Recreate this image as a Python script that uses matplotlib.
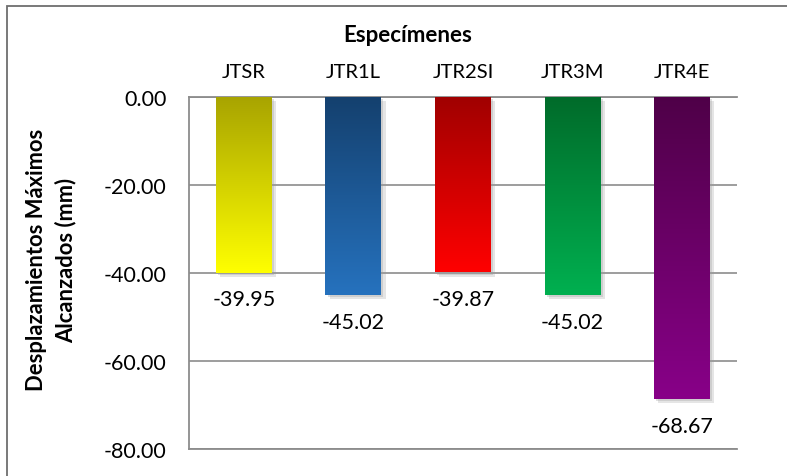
import matplotlib
matplotlib.use("Agg")
import matplotlib.pyplot as plt
import numpy as np
from matplotlib.colors import LinearSegmentedColormap
from matplotlib.patches import Rectangle
import matplotlib.patheffects as pe

plt.rcParams['font.family'] = ['Lato', 'DejaVu Sans']

especimenes = ["JTSR", "JTR1L", "JTR2SI", "JTR3M", "JTR4E"]
desplazamientos = [-39.95, -45.02, -39.87, -45.02, -68.67]
colores_sup = ["#a8a400", "#14406e", "#a00000", "#006b2a", "#4f0048"]
colores_inf = ["#ffff00", "#2672be", "#ff0000", "#00b050", "#880088"]
yticks = [0, -20, -40, -60, -80]

fig = plt.figure(figsize=(7.87, 4.77), dpi=100)
ax = fig.add_axes([189 / 787, 1 - 450 / 477, 548 / 787, 352 / 477])

x = np.arange(len(especimenes))
width = 0.51
bars = ax.bar(x, desplazamientos, width=width, color=colores_inf, zorder=3,
              path_effects=[pe.SimplePatchShadow(offset=(3, -3), shadow_rgbFace='#9a9a9a', alpha=0.25),
                            pe.SimplePatchShadow(offset=(1.5, -1.5), shadow_rgbFace='#9a9a9a', alpha=0.3),
                            pe.Normal()])

# vertical gradient inside each bar
for b, c0, c1 in zip(bars, colores_sup, colores_inf):
    cmap = LinearSegmentedColormap.from_list("g", [c0, c1])
    grad = np.linspace(0, 1, 256).reshape(-1, 1)
    x0 = b.get_x()
    x1 = x0 + b.get_width()
    y0 = b.get_y() + b.get_height()
    im = ax.imshow(grad, cmap=cmap, aspect='auto', extent=[x0, x1, y0, 0],
                   origin='upper', zorder=4, interpolation='bicubic')
    im.set_clip_path(b)

for xi, v in zip(x, desplazamientos):
    ax.annotate(f"{v:.2f}", (xi, v), xytext=(0, -12), textcoords='offset points',
                ha='center', va='top', fontsize=15.5, color='black', zorder=5)

ax.set_xlim(-0.5, len(especimenes) - 0.5)
ax.set_ylim(-80, 0)
ax.set_yticks(yticks)
ax.set_yticklabels([f"{t:.2f}" for t in yticks], fontsize=15.5)
ax.set_xticks(x)
ax.set_xticklabels(especimenes, fontsize=14.5)
ax.xaxis.tick_top()
ax.tick_params(axis='y', length=0, pad=16)
ax.tick_params(axis='x', length=0, pad=12)

ax.grid(axis='y', color='#8c8c8c', linewidth=1.2, zorder=0)
ax.set_axisbelow(True)
for s in ['top', 'left', 'bottom']:
    ax.spines[s].set_color('#8c8c8c')
    ax.spines[s].set_linewidth(1.3)
ax.spines['right'].set_visible(False)

fig.text(408 / 787, 1 - 36 / 477, "Especímenes", ha='center', va='center',
         fontsize=16, fontweight='bold')
fig.text(51 / 787, 1 - 260 / 477, "Desplazamientos Máximos\nAlcanzados (mm)", ha='center',
         va='center', rotation=90, fontsize=15.8, fontweight='bold', linespacing=1.45,
         multialignment='center')

# chart frame
frame = Rectangle((7 / 787, -0.2), 1.2, 0.2 + 1 - 6.5 / 477,
                  transform=fig.transFigure, fill=False,
                  edgecolor='#6e6e6e', linewidth=1.3)
fig.patches.append(frame)

fig.savefig("out.png", dpi=100)
